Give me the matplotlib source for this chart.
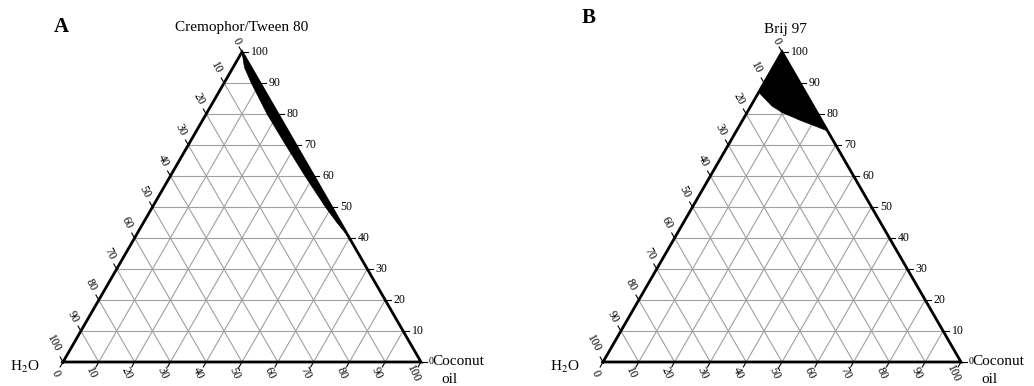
import numpy as np
import matplotlib
matplotlib.use("Agg")
import matplotlib.pyplot as plt

plt.rcParams['font.family'] = ['Liberation Serif', 'DejaVu Serif']
plt.rcParams['mathtext.fontset'] = 'stix'

# tick values on every side (percent)
tick_values = [0, 10, 20, 30, 40, 50, 60, 70, 80, 90, 100]

# panel A: black band along the oil/surfactant edge (water %, surfactant %)
band_a_surf = [100, 95, 90, 80, 70, 60, 50, 45, 40]
band_a_water = [0, 1.8, 2.4, 3.0, 2.8, 2.4, 1.7, 1.0, 0]

# panel B: region near the surfactant apex, lower boundary (water %, oil %)
region_b_water = [13.0, 11.5, 9.6, 6.0, 2.5, 0.0]
region_b_oil = [0.0, 6.0, 10.0, 16.0, 21.5, 25.5]

SQ = np.sqrt(3) / 2


def tern(water, oil, surf):
    water = np.asarray(water, float) / 100
    oil = np.asarray(oil, float) / 100
    surf = np.asarray(surf, float) / 100
    return oil + surf / 2, surf * SQ


def draw_panel(ax, title, title_xy, letter, letter_xy):
    # grid
    for k in tick_values[1:-1]:
        for a, b in [(tern(100 - k, 0, k), tern(0, 100 - k, k)),
                     (tern(100 - k, k, 0), tern(0, k, 100 - k)),
                     (tern(k, 100 - k, 0), tern(k, 0, 100 - k))]:
            ax.plot([a[0], b[0]], [a[1], b[1]], color='#a0a0a0', lw=0.8, zorder=1)
    # edges
    cx, cy = tern([100, 0, 0, 100], [0, 100, 0, 0], [0, 0, 100, 0])
    ax.plot(cx, cy, color='black', lw=2.0, zorder=4, solid_joinstyle='miter')

    tl = 0.016
    for v in tick_values:
        s = str(v)
        # right edge: surfactant
        x, y = tern(0, 100 - v, v)
        ax.plot([x, x + tl], [y, y], color='black', lw=0.8)
        if v > 0:
            ax.text(x + tl + 0.008, y, s, fontsize=8.5, ha='left', va='center')
        else:
            ax.text(x + tl + 0.004, y, s, fontsize=7, ha='left', va='center')
        # bottom edge: oil
        x, y = tern(100 - v, v, 0)
        ax.plot([x, x - tl * 0.5], [y, y - tl * SQ], color='black', lw=0.8)
        ax.text(x - 0.022, y - 0.032, s, fontsize=8.5, ha='center', va='center',
                rotation=-65)
        # left edge: water
        x, y = tern(v, 0, 100 - v)
        ax.plot([x, x - tl * 0.5], [y, y + tl * SQ], color='black', lw=0.8)
        d = 0.02 + 0.013 * len(s)
        ax.text(x - d * 0.45, y + d * 0.89, s, fontsize=8.5, ha='center',
                va='center', rotation=-62)

    ax.text(title_xy[0], title_xy[1], title, fontsize=11, ha='center', va='center')
    ax.text(letter_xy[0], letter_xy[1], letter, fontsize=15, fontweight='bold',
            ha='center', va='center')
    ax.text(-0.108, -0.014, r'H$_2$O', fontsize=11, ha='center', va='center')
    ax.text(1.032, 0.002, 'Coconut', fontsize=11, ha='left', va='center')
    ax.text(1.057, -0.05, 'oil', fontsize=11, ha='left', va='center')
    ax.axis('off')


fig = plt.figure(figsize=(10.34, 3.86), dpi=100)
scale = 358.0
W, H = 1034.0, 386.0

ax_a = fig.add_axes([0, 0, 517 / W, 1])
ax_a.set_xlim(-63 / scale, (517 - 63) / scale)
ax_a.set_ylim(-24 / scale, (H - 24) / scale)

ax_b = fig.add_axes([517 / W, 0, 517 / W, 1])
ax_b.set_xlim(-(603 - 517) / scale, (517 - (603 - 517)) / scale)
ax_b.set_ylim(-24 / scale, (H - 24) / scale)

# panel A fill
band_a_oil = [100 - w - s for w, s in zip(band_a_water, band_a_surf)]
inner = tern(band_a_water, band_a_oil, band_a_surf)
ax_a.fill(inner[0], inner[1], color='black', lw=0.5, zorder=3)
draw_panel(ax_a, 'Cremophor/Tween 80', (0.5, 0.935), 'A', (-0.005, 0.935))

# panel B fill
surf_b = [100 - w - o for w, o in zip(region_b_water, region_b_oil)]
bx, by = tern([0] + region_b_water, [0] + region_b_oil, [100] + surf_b)
ax_b.fill(bx, by, color='black', lw=0.5, zorder=3)
draw_panel(ax_b, 'Brij 97', (0.51, 0.93), 'B', (-0.04, 0.96))

fig.savefig('out.png', dpi=100)
